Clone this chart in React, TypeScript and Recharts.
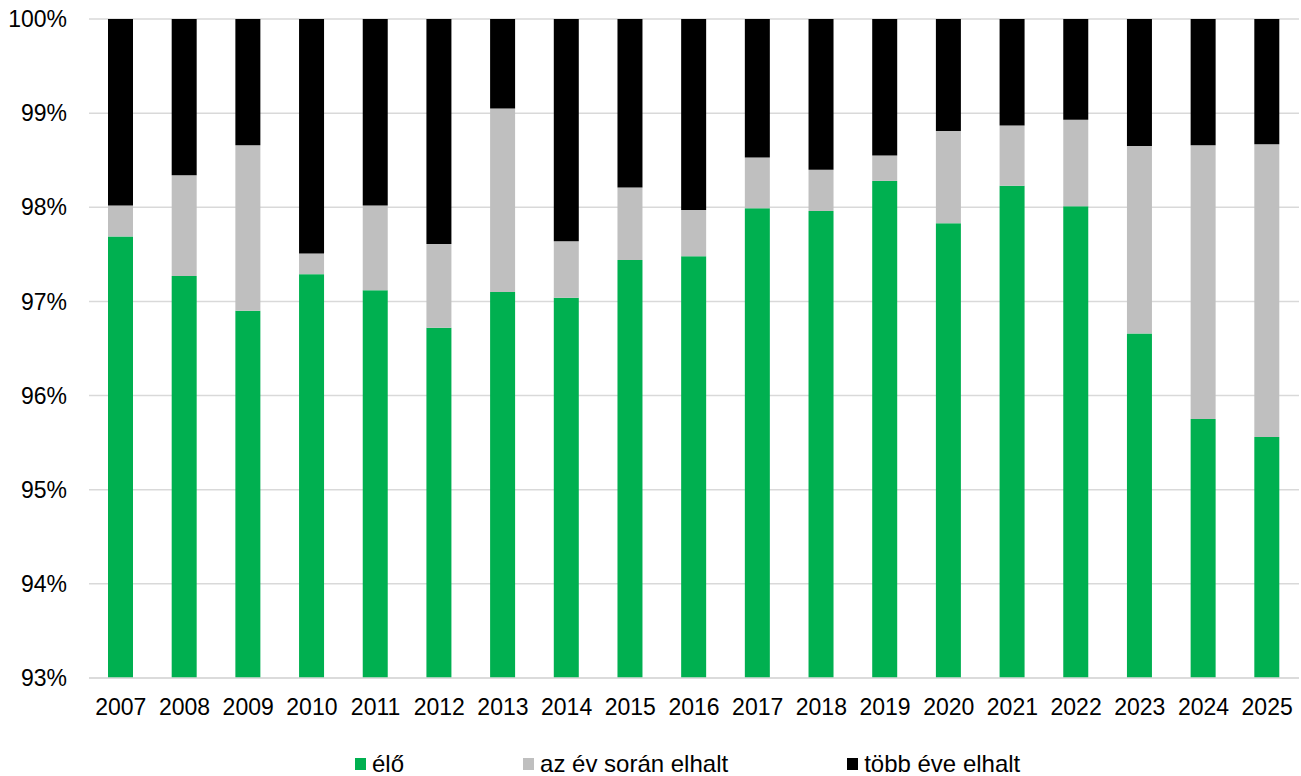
import React from 'react';
import { BarChart, Bar, XAxis, YAxis, CartesianGrid, Legend } from 'recharts';

const years = ['2007', '2008', '2009', '2010', '2011', '2012', '2013', '2014', '2015', '2016',
    '2017', '2018', '2019', '2020', '2021', '2022', '2023', '2024', '2025'];

// share of living trees (%)
const elo = [97.69, 97.27, 96.9, 97.29, 97.12, 96.72, 97.1, 97.04, 97.44, 97.48,
    97.99, 97.96, 98.28, 97.83, 98.23, 98.01, 96.66, 95.75, 95.56];

// died during the year (%)
const evSoran = [0.33, 1.07, 1.76, 0.22, 0.9, 0.89, 1.95, 0.6, 0.77, 0.49,
    0.54, 0.44, 0.27, 0.98, 0.64, 0.92, 1.99, 2.91, 3.11];

// died several years ago (%)
const tobbEve = [1.98, 1.66, 1.34, 2.49, 1.98, 2.39, 0.95, 2.36, 1.79, 2.03,
    1.47, 1.6, 1.45, 1.19, 1.13, 1.07, 1.35, 1.34, 1.33];

const yTicks = [93, 94, 95, 96, 97, 98, 99, 100];

const series = [
    { key: 'elo', name: 'élő', color: '#00B050' },
    { key: 'evSoran', name: 'az év során elhalt', color: '#BFBFBF' },
    { key: 'tobbEve', name: 'több éve elhalt', color: '#000000' },
];

const data = years.map((year, i) => ({
    year,
    elo: elo[i],
    evSoran: evSoran[i],
    tobbEve: tobbEve[i],
}));

const FONT = '"Liberation Sans", Arial, sans-serif';

const renderLegend = () => (
    <div
        style={{
            display: 'flex',
            alignItems: 'center',
            height: 25,
            paddingLeft: 355,
            gap: 119,
            fontFamily: FONT,
            fontSize: 24,
            color: '#000',
        }}
    >
        {series.map(s => (
            <div key={s.key} style={{ display: 'flex', alignItems: 'center' }}>
                <span style={{ display: 'inline-block', width: 11, height: 12, background: s.color, marginRight: 6 }} />
                <span style={{ lineHeight: '25px' }}>{s.name}</span>
            </div>
        ))}
    </div>
);

export default function App() {
    return (
        <div style={{ position: 'absolute', left: 0, top: 0, width: 1301, height: 776, background: '#fff' }}>
            <BarChart
                width={1301}
                height={776}
                data={data}
                margin={{ top: 19, right: 2, left: 0, bottom: 0 }}
                barSize={25}
            >
                <CartesianGrid vertical={false} stroke="#D9D9D9" strokeWidth={1.5} />
                <XAxis
                    dataKey="year"
                    height={73}
                    tickLine={false}
                    tickSize={0}
                    tickMargin={21}
                    axisLine={{ stroke: '#D9D9D9', strokeWidth: 1.5 }}
                    tick={{ fill: '#000', fontSize: 23, fontFamily: FONT }}
                    interval={0}
                />
                <YAxis
                    width={89}
                    domain={[93, 100]}
                    ticks={yTicks}
                    allowDataOverflow
                    axisLine={false}
                    tickLine={false}
                    tickSize={0}
                    tickMargin={22}
                    tickFormatter={(v: number) => `${v}%`}
                    tick={{ fill: '#000', fontSize: 23, fontFamily: FONT }}
                />
                <Legend verticalAlign="bottom" content={renderLegend} />
                {series.map(s => (
                    <Bar
                        key={s.key}
                        dataKey={s.key}
                        name={s.name}
                        stackId="a"
                        fill={s.color}
                        isAnimationActive={false}
                    />
                ))}
            </BarChart>
        </div>
    );
}
